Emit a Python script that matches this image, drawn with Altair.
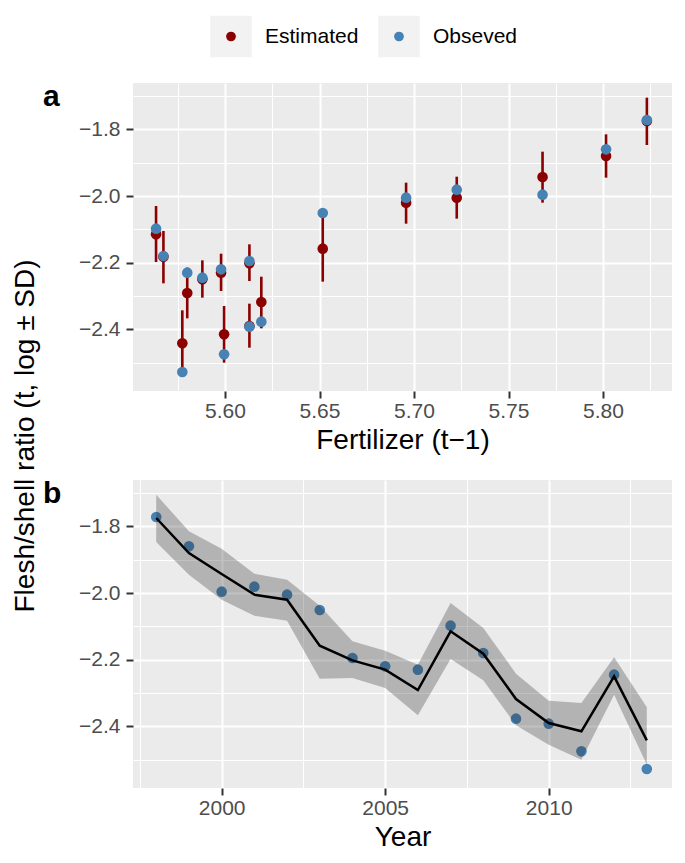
import altair as alt
import pandas as pd

# ---------------- data ----------------
years = list(range(1998, 2014))
fertilizer = [5.8232, 5.8016, 5.7680, 5.7226, 5.6958, 5.6517, 5.6129, 5.5979,
              5.5800, 5.5635, 5.5674, 5.6192, 5.6129, 5.5995, 5.5880, 5.5774]
estimated = [-1.775, -1.880, -1.943, -2.005, -2.020, -2.158, -2.202, -2.230,
             -2.291, -2.115, -2.182, -2.318, -2.390, -2.415, -2.250, -2.442]
est_low = [-1.847, -1.945, -2.020, -2.068, -2.083, -2.257, -2.255, -2.285,
           -2.367, -2.198, -2.262, -2.397, -2.455, -2.500, -2.305, -2.515]
est_high = [-1.705, -1.815, -1.867, -1.942, -1.960, -2.038, -2.145, -2.173,
            -2.215, -2.030, -2.105, -2.242, -2.323, -2.330, -2.193, -2.343]
observed = [-1.772, -1.860, -1.996, -1.981, -2.005, -2.051, -2.195, -2.220,
            -2.230, -2.098, -2.180, -2.377, -2.392, -2.475, -2.245, -2.528]

legend_labels = ["Estimated", "Obseved"]
legend_colors = ["#8B0000", "#4682B4"]
panel_tags = ["a", "b"]

y_ticks = [-1.7, -1.8, -1.9, -2.0, -2.1, -2.2, -2.3, -2.4, -2.5]
fert_ticks = [5.575, 5.60, 5.625, 5.65, 5.675, 5.70, 5.725, 5.75, 5.775, 5.80, 5.825]
year_ticks = [1997.5, 2000, 2002.5, 2005, 2007.5, 2010, 2012.5]

df = pd.DataFrame(dict(year=years, fert=fertilizer, est=estimated,
                       lo=est_low, hi=est_high, obs=observed))
leg_df = pd.DataFrame(dict(label=legend_labels, color=legend_colors))

FONT = "Liberation Sans"
RED, BLUE = legend_colors
W, H = 539, 308
PT = 113


def axis(values, minor_test, fmt, title, orient, **kw):
    return alt.Axis(
        values=values, title=title, orient=orient,
        labelExpr=f"({minor_test}) ? '' : format(datum.value, '{fmt}')",
        grid=True, gridColor="white",
        gridWidth={"condition": {"test": minor_test, "value": 1.0}, "value": 2.0},
        tickOpacity={"condition": {"test": minor_test, "value": 0}, "value": 1},
        domain=False, ticks=True, tickColor="#333333", tickWidth=2, tickSize=7,
        labelColor="#4D4D4D", labelFont=FONT, labelFontSize=21,
        labelOverlap=False, labelFlush=False,
        titleFont=FONT, titleFontSize=28, titleFontWeight="normal",
        titleColor="black", **kw)


y_minor = "abs(datum.value*5 - round(datum.value*5)) > 0.01"
xa_minor = "abs(datum.value*20 - round(datum.value*20)) > 0.01"
xb_minor = "abs(datum.value/5 - round(datum.value/5)) > 0.01"

y_scale = alt.Scale(domain=[-2.585, -1.661], nice=False, zero=False)

ya_axis = axis(y_ticks, y_minor, ".1f", "Flesh/shell ratio (t, log ± SD)", "left",
               labelPadding=6, titleAngle=270, titleX=-100, titleY=352.5,
               titleBaseline="alphabetic", titleAlign="center")
yb_axis = axis(y_ticks, y_minor, ".1f", "", "left", labelPadding=6)
xa_axis = axis(fert_ticks, xa_minor, ".2f", "Fertilizer (t\u22121)", "bottom",
               labelPadding=19.5, labelBaseline="alphabetic",
               titleY=57.5, titleBaseline="alphabetic")
xb_axis = axis(year_ticks, xb_minor, "d", "Year", "bottom",
               labelPadding=19.5, labelBaseline="alphabetic",
               titleY=57.5, titleBaseline="alphabetic")


def tag_layer(t):
    return alt.Chart(pd.DataFrame({"tag": [t]})).mark_text(
        align="left", baseline="alphabetic", fontSize=30, fontWeight="bold",
        font=FONT, color="black").encode(
        text="tag:N", x=alt.value(-90), y=alt.value(23))


view_bg = alt.ViewBackground(fill="#EBEBEB", strokeWidth=0)

# ---------------- panel a ----------------
xa = alt.X("fert:Q", scale=alt.Scale(domain=[5.5513, 5.8365], nice=False, zero=False),
           axis=xa_axis)
base_a = alt.Chart(df)
err_a = base_a.mark_rule(color=RED, strokeWidth=2.6).encode(
    x=xa, y=alt.Y("lo:Q", scale=y_scale, axis=ya_axis), y2="hi:Q")
est_a = base_a.mark_circle(size=PT, color=RED, opacity=1).encode(
    x=xa, y=alt.Y("est:Q", scale=y_scale, axis=ya_axis))
obs_a = base_a.mark_circle(size=PT, color=BLUE, opacity=1).encode(
    x=xa, y=alt.Y("obs:Q", scale=y_scale, axis=ya_axis))
panel_a = alt.layer(err_a, est_a, obs_a, tag_layer(panel_tags[0])).properties(
    width=W, height=H, view=view_bg)

# ---------------- panel b ----------------
xb = alt.X("year:Q", scale=alt.Scale(domain=[1997.29, 2013.77], nice=False, zero=False),
           axis=xb_axis)
base_b = alt.Chart(df)
obs_b = base_b.mark_circle(size=PT, color=BLUE, opacity=1).encode(
    x=xb, y=alt.Y("obs:Q", scale=y_scale, axis=yb_axis))
band_b = base_b.mark_area(color="#333333", opacity=0.3).encode(
    x=xb, y=alt.Y("lo:Q", scale=y_scale, axis=yb_axis), y2="hi:Q")
line_b = base_b.mark_line(color="black", strokeWidth=2.5).encode(
    x=xb, y=alt.Y("est:Q", scale=y_scale, axis=yb_axis))
panel_b = alt.layer(obs_b, band_b, line_b, tag_layer(panel_tags[1])).properties(
    width=W, height=H, view=view_bg)

# ---------------- legend ----------------
lx = alt.X("label:N", scale=alt.Scale(type="point", domain=legend_labels,
                                       range=[98, 266], padding=0), axis=None)
keys = alt.Chart(leg_df).mark_square(size=1722, color="#F2F2F2", opacity=1).encode(x=lx)
dots = alt.Chart(leg_df).mark_circle(size=95, opacity=1).encode(
    x=lx, color=alt.Color("label:N", scale=alt.Scale(domain=legend_labels,
                                                      range=legend_colors), legend=None))
texts = alt.Chart(leg_df).mark_text(align="left", baseline="middle", dx=34,
                                    fontSize=21, font=FONT, color="black").encode(
    x=lx, text="label:N")
legend = alt.layer(keys, dots, texts).properties(
    width=W, height=41, view=alt.ViewBackground(fill="white", strokeWidth=0))

panels = alt.vconcat(panel_a, panel_b, spacing=89, bounds="flush").resolve_scale(
    x="independent", y="independent")

chart = alt.vconcat(legend, panels, spacing=26, bounds="flush").resolve_scale(
    x="independent", y="independent", color="independent").properties(
    padding={"left": 3, "top": 7, "right": 0, "bottom": 0},
    background="white").configure_view(strokeWidth=0)

chart.save("out.html", embed_options={"renderer": "svg", "actions": False})
